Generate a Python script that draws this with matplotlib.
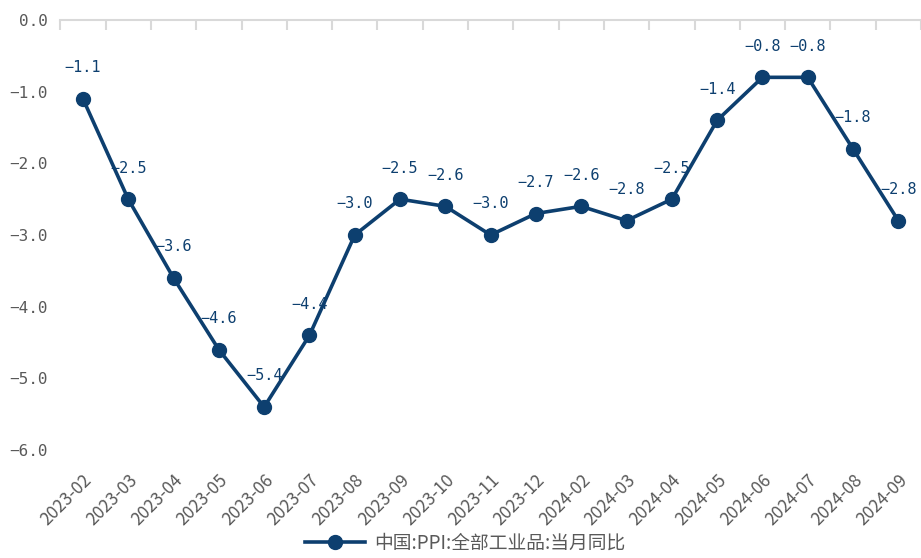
import numpy as np
import matplotlib
matplotlib.use("Agg")
import matplotlib.pyplot as plt

plt.rcParams['font.family'] = ['DejaVu Sans Mono', 'Noto Sans CJK SC']
plt.rcParams['axes.unicode_minus'] = True

# 数据
meses = ['2023-02', '2023-03', '2023-04', '2023-05', '2023-06', '2023-07',
         '2023-08', '2023-09', '2023-10', '2023-11', '2023-12', '2024-02',
         '2024-03', '2024-04', '2024-05', '2024-06', '2024-07', '2024-08',
         '2024-09']
ppi = [-1.1, -2.5, -3.6, -4.6, -5.4, -4.4, -3.0, -2.5, -2.6, -3.0, -2.7,
       -2.6, -2.8, -2.5, -1.4, -0.8, -0.8, -1.8, -2.8]
rotulo_serie = '中国:PPI:全部工业品:当月同比'
y_ticks = [0.0, -1.0, -2.0, -3.0, -4.0, -5.0, -6.0]

cor = '#0d3f6f'
cinza = '#595959'
fonte_cjk = ['Noto Sans CJK SC', 'DejaVu Sans']

fig = plt.figure(figsize=(9.21, 5.58), dpi=100)
ax = fig.add_axes([60.3 / 921, 108 / 558, 860.7 / 921, 430 / 558])

x = np.arange(len(meses))
ax.plot(x, ppi, color=cor, linewidth=2.6, marker='o', markersize=10,
        label=rotulo_serie, zorder=3)

for xi, v in zip(x, ppi):
    ax.annotate(f'{v:.1f}'.replace('-', '\u2212'), (xi, v), xytext=(0, 17),
                textcoords='offset points', ha='center', va='bottom',
                fontsize=11, color=cor)

ax.set_xlim(-0.5, -0.5 + 860.7 / 45.44)
ax.set_ylim(-6, 0)
ax.set_yticks(y_ticks)
ax.set_yticklabels([f'{v:.1f}'.replace('-', '\u2212') for v in y_ticks])
ax.tick_params(axis='y', length=0, labelsize=11.5, labelcolor=cinza, pad=9)

ax.set_xticks(x)
ax.set_xticklabels(meses, rotation=45, ha='right', va='top',
                   rotation_mode='anchor', fontfamily=fonte_cjk)
ax.tick_params(axis='x', which='major', length=0, labelsize=12.5,
               labelcolor=cinza, pad=15)
ax.set_xticks(np.arange(-0.5, len(meses), 1), minor=True)
ax.tick_params(axis='x', which='minor', top=True, bottom=False,
               direction='in', length=7, width=1.5, color='#d9d9d9')

for lado in ['left', 'right', 'bottom']:
    ax.spines[lado].set_visible(False)
ax.spines['top'].set_color('#d9d9d9')
ax.spines['top'].set_linewidth(1.5)

leg = fig.legend(loc='lower center', bbox_to_anchor=(0.505, -0.022), frameon=False,
                 fontsize=13.5, handlelength=3.2, handletextpad=0.5)
for t in leg.get_texts():
    t.set_color(cinza)
    t.set_fontfamily(fonte_cjk)

fig.savefig('out.png', dpi=100)
